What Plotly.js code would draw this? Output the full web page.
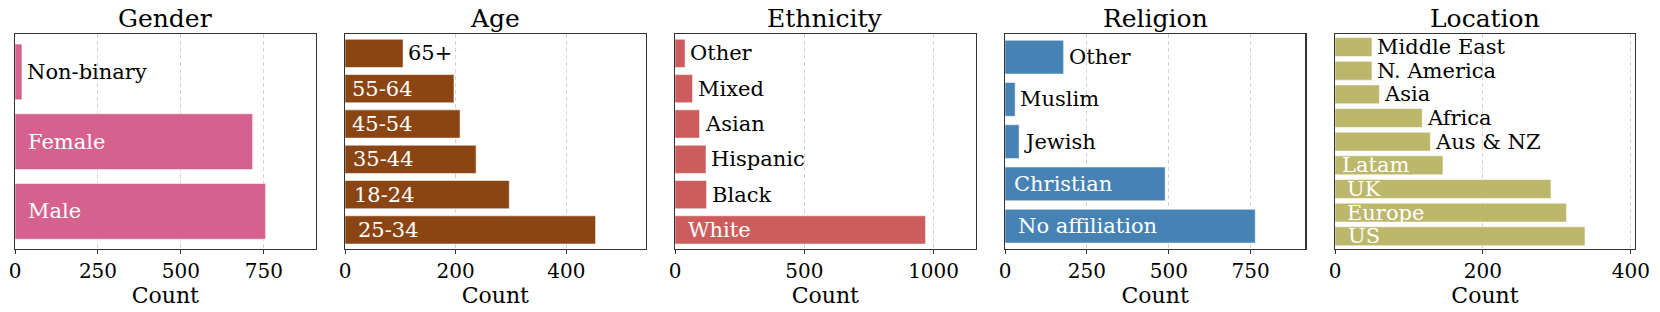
<!DOCTYPE html>
<html>
<head>
<meta charset="utf-8">
<script src="https://cdn.plot.ly/plotly-3.0.1.min.js"></script>
<style>html,body{margin:0;padding:0;background:#fff;}#chart{width:1660px;height:312px;}</style>
</head>
<body>
<div id="chart"></div>
<script>
// ---- Data (bottom to top) ----
const panelTitles = ['Gender', 'Age', 'Ethnicity', 'Religion', 'Location'];

const genderCats = ['Male', 'Female', 'Non-binary'];
const genderVals = [755, 716, 21];

const ageCats = ['25-34', '18-24', '35-44', '45-54', '55-64', '65+'];
const ageVals = [453, 297, 237, 208, 197, 105];

const ethnicityCats = ['White', 'Black', 'Hispanic', 'Asian', 'Mixed', 'Other'];
const ethnicityVals = [969, 122, 120, 95, 68, 39];

const religionCats = ['No affiliation', 'Christian', 'Jewish', 'Muslim', 'Other'];
const religionVals = [764, 489, 43, 31, 179];

const locationCats = ['US', 'Europe', 'UK', 'Latam', 'Aus & NZ', 'Africa', 'Asia', 'N. America', 'Middle East'];
const locationVals = [338, 313, 292, 146, 129, 118, 60, 50, 50];

const xTicks = [[0, 250, 500, 750], [0, 200, 400], [0, 500, 1000], [0, 250, 500, 750], [0, 200, 400]];

// ---- Styling ----
const colors = ['#d6608e', '#8b4513', '#cd5c5c', '#4682b4', '#bdb76b'];
const W = 1660, H = 312;
const panelX = [[15, 315.7], [345, 645.7], [675, 975.7], [1005, 1305.3], [1335, 1635]];
const plotTop = 34.3, plotBottom = 249;
const FONT = 'DejaVu Serif, serif';

const panels = [
  [genderCats, genderVals], [ageCats, ageVals], [ethnicityCats, ethnicityVals],
  [religionCats, religionVals], [locationCats, locationVals]
];

const data = [];
const annotations = [];
const layout = {
  width: W, height: H,
  margin: {l: 0, r: 0, t: 0, b: 0},
  paper_bgcolor: '#fff', plot_bgcolor: '#fff',
  showlegend: false,
  bargap: 0.2,
  font: {family: FONT, color: '#000'}
};

panels.forEach(([cats, vals], i) => {
  const n = i + 1;
  const xa = 'x' + (n === 1 ? '' : n), ya = 'y' + (n === 1 ? '' : n);
  const xKey = 'xaxis' + (n === 1 ? '' : n), yKey = 'yaxis' + (n === 1 ? '' : n);
  const vmax = Math.max(...vals);
  data.push({
    type: 'bar', orientation: 'h', x: vals, y: cats,
    xaxis: xa, yaxis: ya, width: 0.8,
    marker: {color: colors[i], line: {color: 'rgba(255,255,255,0.55)', width: 1}},
    hoverinfo: 'x+y'
  });
  layout[xKey] = {
    domain: [panelX[i][0] / W, panelX[i][1] / W],
    anchor: ya,
    range: [0, vmax * 1.2],
    tickvals: xTicks[i], ticktext: xTicks[i].map(String),
    ticks: 'outside', ticklen: 4, tickwidth: 1, tickcolor: '#333',
    tickfont: {family: FONT, size: 20, color: '#000'},
    showgrid: true, gridcolor: '#d2d2d2', griddash: '4px,3px', gridwidth: 1,
    zeroline: false,
    showline: true, mirror: true, linecolor: '#333', linewidth: 1.2,
    title: {text: 'Count', font: {family: FONT, size: 22, color: '#000'}, standoff: 0},
    fixedrange: true
  };
  layout[yKey] = {
    domain: [1 - plotBottom / H, 1 - plotTop / H],
    anchor: xa,
    type: 'category',
    categoryorder: 'array', categoryarray: cats,
    range: [-0.54, cats.length - 0.46],
    showticklabels: false, ticks: '',
    showgrid: false, zeroline: false,
    showline: true, mirror: true, linecolor: '#333', linewidth: 1.2,
    fixedrange: true
  };
  // Title
  annotations.push({
    xref: 'paper', yref: 'paper',
    x: (panelX[i][0] + panelX[i][1]) / 2 / W, y: 1 - plotTop / H,
    xanchor: 'center', yanchor: 'bottom', yshift: -1,
    text: panelTitles[i], showarrow: false,
    font: {family: FONT, size: 25, color: '#000'}
  });
  // Bar labels
  cats.forEach((c, k) => {
    const v = vals[k];
    const inside = v > 0.4 * vmax;
    annotations.push({
      xref: xa, yref: ya,
      x: inside ? v * 0.045 : v, y: c,
      xanchor: 'left', yanchor: 'middle',
      xshift: inside ? 0 : 3,
      text: c, showarrow: false,
      font: {family: FONT, size: 21, color: inside ? '#fff' : '#000'}
    });
  });
});
layout.annotations = annotations;

Plotly.newPlot('chart', data, layout, {staticPlot: true, displayModeBar: false});
</script>
</body>
</html>
